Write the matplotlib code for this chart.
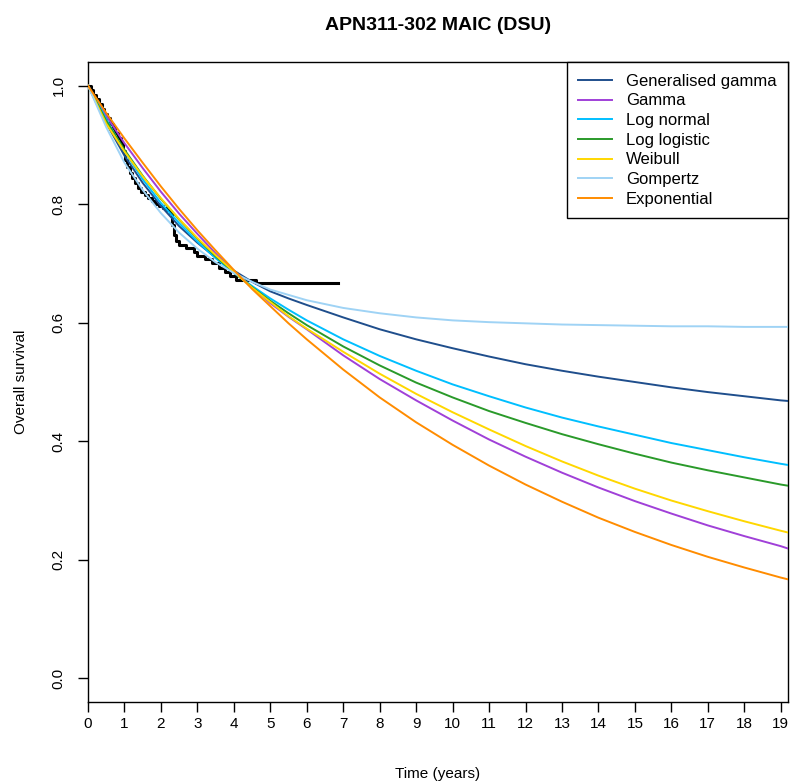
import numpy as np
import matplotlib.pyplot as plt

plt.rcParams['font.family'] = ['Liberation Sans', 'DejaVu Sans']

# fitted curves
t_grid = [0, 0.5, 1, 1.5, 2, 2.5, 3, 3.5, 4, 4.5, 5, 5.5, 6, 7, 8, 9, 10,
          11, 12, 13, 14, 15, 16, 17, 18, 19, 19.2]

gen_gamma = [1.0, 0.937, 0.882, 0.836, 0.797, 0.763, 0.735, 0.710, 0.688, 0.669,
             0.653, 0.641, 0.630, 0.609, 0.589, 0.572, 0.557, 0.543, 0.530,
             0.519, 0.509, 0.500, 0.491, 0.483, 0.476, 0.469, 0.468]
gamma = [1.0, 0.949, 0.903, 0.861, 0.821, 0.784, 0.750, 0.717, 0.687, 0.660,
         0.633, 0.610, 0.589, 0.545, 0.505, 0.469, 0.435, 0.403, 0.374,
         0.347, 0.322, 0.299, 0.278, 0.258, 0.240, 0.223, 0.219]
log_normal = [1.0, 0.944, 0.889, 0.842, 0.802, 0.768, 0.737, 0.709, 0.684, 0.662,
              0.641, 0.622, 0.604, 0.572, 0.544, 0.519, 0.496, 0.476, 0.457,
              0.440, 0.425, 0.411, 0.397, 0.385, 0.373, 0.362, 0.360]
log_logistic = [1.0, 0.941, 0.892, 0.848, 0.809, 0.774, 0.742, 0.712, 0.685, 0.660,
                0.637, 0.616, 0.596, 0.560, 0.528, 0.499, 0.474, 0.451, 0.431,
                0.412, 0.395, 0.379, 0.364, 0.351, 0.339, 0.327, 0.325]
weibull = [1.0, 0.936, 0.889, 0.847, 0.810, 0.775, 0.743, 0.714, 0.686, 0.659,
           0.635, 0.611, 0.590, 0.551, 0.514, 0.480, 0.449, 0.420, 0.392,
           0.366, 0.342, 0.320, 0.300, 0.282, 0.265, 0.249, 0.246]
gompertz = [1.0, 0.930, 0.870, 0.824, 0.785, 0.752, 0.725, 0.702, 0.684, 0.669,
            0.656, 0.647, 0.638, 0.625, 0.616, 0.609, 0.604, 0.601, 0.599,
            0.597, 0.596, 0.595, 0.594, 0.594, 0.593, 0.593, 0.593]
exponential = [1.0, 0.954, 0.911, 0.870, 0.830, 0.792, 0.756, 0.722, 0.689, 0.657,
               0.628, 0.599, 0.572, 0.521, 0.474, 0.432, 0.394, 0.359, 0.327,
               0.298, 0.271, 0.247, 0.225, 0.205, 0.187, 0.170, 0.167]

# Kaplan-Meier steps
km_time = [0, 0.08, 0.15, 0.22, 0.3, 0.38, 0.45, 0.52, 0.6, 0.68, 0.75, 0.82,
           0.9, 0.97, 1.02, 1.08, 1.15, 1.22, 1.3, 1.38, 1.46, 1.55, 1.65,
           1.75, 1.85, 1.95, 2.05, 2.15, 2.25, 2.3, 2.35, 2.42, 2.5, 2.7, 2.9,
           3.0, 3.2, 3.4, 3.6, 3.75, 3.9, 4.05, 4.6, 6.85]
km_surv = [1.0, 0.993, 0.985, 0.977, 0.969, 0.961, 0.953, 0.945, 0.936, 0.928,
           0.920, 0.911, 0.902, 0.890, 0.875, 0.862, 0.853, 0.845, 0.836, 0.828,
           0.820, 0.815, 0.810, 0.805, 0.800, 0.797, 0.793, 0.790, 0.785, 0.765,
           0.748, 0.738, 0.731, 0.726, 0.720, 0.713, 0.707, 0.700, 0.693, 0.686,
           0.679, 0.672, 0.667, 0.667]

names = ["Generalised gamma", "Gamma", "Log normal", "Log logistic",
         "Weibull", "Gompertz", "Exponential"]
curves = [gen_gamma, gamma, log_normal, log_logistic, weibull, gompertz, exponential]
colors = ["#1f4e8c", "#a040d8", "#00bfff", "#2a9a2a", "#ffd700", "#9fd3f5", "#ff8c00"]

fig = plt.figure(figsize=(7.9, 7.84), dpi=100)
ax = fig.add_axes([88/790, 1-702/784, 700/790, 640/784])

ax.step(km_time, km_surv, where='post', color='black', lw=2.2, zorder=3)
for name, y, c in zip(names, curves, colors):
    ax.plot(t_grid, y, color=c, lw=1.4, label=name, zorder=4)

ax.set_xlim(0, 19.2)
ax.set_ylim(-0.04, 1.04)
ax.set_xticks(range(0, 20))
ax.set_yticks([0.0, 0.2, 0.4, 0.6, 0.8, 1.0])
ax.set_yticklabels(["0.0", "0.2", "0.4", "0.6", "0.8", "1.0"], rotation=90, va='center')
ax.tick_params(axis='both', length=7, width=1, labelsize=11, pad=4)
ax.tick_params(axis='y', pad=9)
for s in ax.spines.values():
    s.set_linewidth(1)

ax.set_xlabel("Time (years)", fontsize=11, labelpad=26)
ax.set_ylabel("Overall survival", fontsize=11, labelpad=17)
ax.set_title("APN311-302 MAIC (DSU)", fontsize=14, fontweight='bold', pad=23)

leg = ax.legend(loc='upper right', borderaxespad=0, fancybox=False,
                edgecolor='black', framealpha=1, fontsize=12,
                handlelength=2.0, handletextpad=0.85, labelspacing=0.28,
                borderpad=0.7)
leg.get_frame().set_linewidth(1)

fig.savefig("out.png", dpi=100)
